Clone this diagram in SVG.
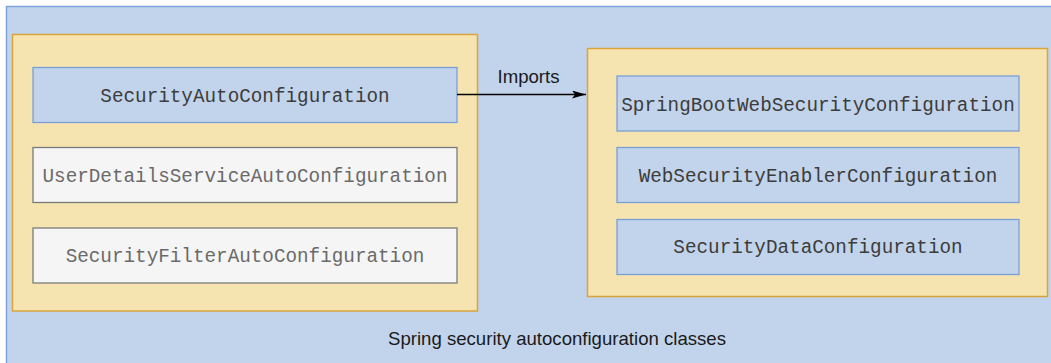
<svg xmlns="http://www.w3.org/2000/svg" width="1051" height="363" viewBox="0 0 1051 363">
<style>
.outer{fill:#c2d4eb;stroke:#7fa3dc;stroke-width:1.5}
.cont{fill:#f5e4b0;stroke:#d9a43c;stroke-width:1.5}
.blue{fill:#c2d4eb;stroke:#7a9fd6;stroke-width:1.3}
.gray{fill:#f5f5f5;stroke:#7a7a7a;stroke-width:1.3}
.mono{font-family:"Liberation Mono","Courier New",monospace;font-size:19.3px;fill:#3c3c3c;text-anchor:middle}
.light{fill:#6a6a6a}
.sans{font-family:"Liberation Sans",Arial,sans-serif;font-size:18.6px;fill:#1a1a1a;text-anchor:middle}
.edge{stroke:#000;stroke-width:1.4;fill:none}
</style>
<defs>
<marker id="arr" markerWidth="14" markerHeight="8" refX="14" refY="4" orient="auto" markerUnits="userSpaceOnUse">
<path d="M0,0 L14,4 L0,8 L3,4 Z" fill="#000"/>
</marker>
</defs>
<g id="frame">
<rect class="outer" x="6.5" y="6.5" width="1060" height="370"/>
<text class="sans" x="557" y="345">Spring security autoconfiguration classes</text>
</g>
<g id="left-container">
<rect class="cont" x="12.5" y="34.5" width="465" height="276.5"/>
</g>
<g id="right-container">
<rect class="cont" x="587.5" y="48.5" width="460" height="248"/>
</g>
<g id="SecurityAutoConfiguration">
<rect class="blue" x="33" y="67.5" width="424" height="55"/>
<text class="mono" x="245" y="102">SecurityAutoConfiguration</text>
</g>
<g id="UserDetailsServiceAutoConfiguration">
<rect class="gray" x="33" y="147.5" width="424" height="55"/>
<text class="mono light" x="245" y="182">UserDetailsServiceAutoConfiguration</text>
</g>
<g id="SecurityFilterAutoConfiguration">
<rect class="gray" x="33" y="228" width="424" height="55"/>
<text class="mono light" x="245" y="262">SecurityFilterAutoConfiguration</text>
</g>
<g id="SpringBootWebSecurityConfiguration">
<rect class="blue" x="617" y="76" width="402" height="55"/>
<text class="mono" x="818" y="110.5">SpringBootWebSecurityConfiguration</text>
</g>
<g id="WebSecurityEnablerConfiguration">
<rect class="blue" x="617" y="147.5" width="402" height="55"/>
<text class="mono" x="818" y="181.5">WebSecurityEnablerConfiguration</text>
</g>
<g id="SecurityDataConfiguration">
<rect class="blue" x="617" y="219.5" width="402" height="55"/>
<text class="mono" x="818" y="253">SecurityDataConfiguration</text>
</g>
<g id="connectors">
<line class="edge" x1="457" y1="94.5" x2="586" y2="94.5" marker-end="url(#arr)"/>
<text class="sans" x="528.5" y="82.5">Imports</text>
</g>
</svg>
